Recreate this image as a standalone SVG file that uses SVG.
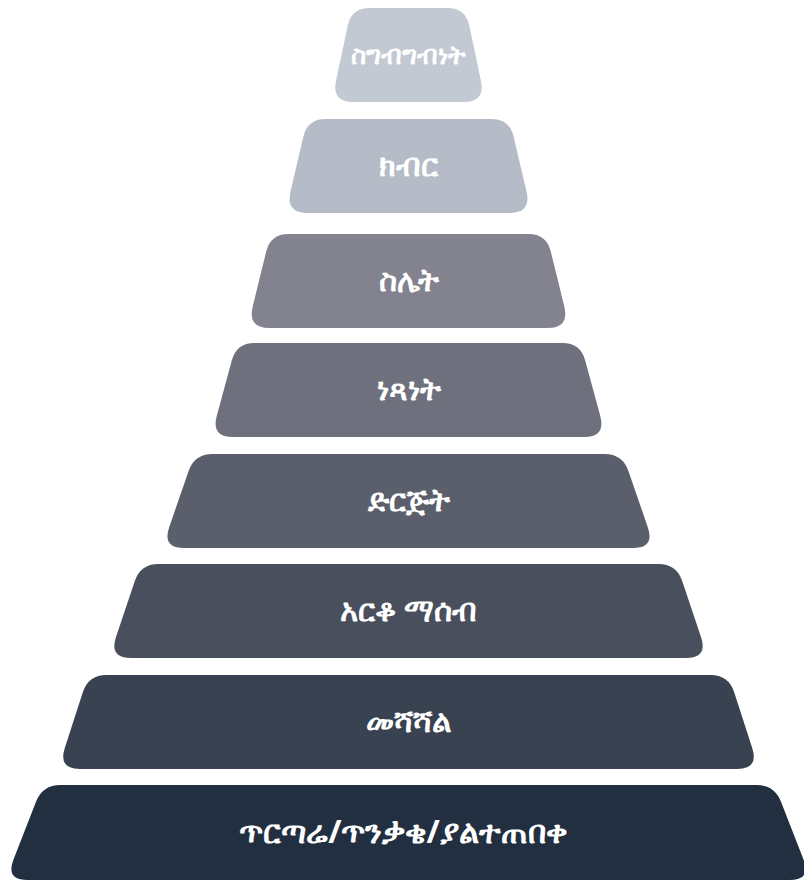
<svg xmlns="http://www.w3.org/2000/svg" width="804" height="883" viewBox="0 0 804 883">
<style>
.lbl{font-family:"Noto Sans","DejaVu Sans",sans-serif;font-weight:bold;fill:#ffffff;text-anchor:middle;font-size:31px}
.sm{font-size:26px}
</style>
<rect width="804" height="883" fill="#ffffff"/>
<g id="level1">
<path d="M369.5,8 H447.5 Q465.5,8 469.25,25.6 L480.9,80.5 Q485.5,102 463.5,102 H353.5 Q331.5,102 336.1,80.5 L347.75,25.6 Q351.5,8 369.5,8Z" fill="#c2c9d3"/>
<text class="lbl sm" x="408.5" y="64">ስግብግብነት</text>
</g>
<g id="level2">
<path d="M325.5,119 H491.5 Q509.5,119 513.6,136.5 L526.5,191.6 Q531.5,213 509.5,213 H307.5 Q285.5,213 290.5,191.6 L303.4,136.5 Q307.5,119 325.5,119Z" fill="#b5bcc7"/>
<text class="lbl" x="408.5" y="176">ክብር</text>
</g>
<g id="level3">
<path d="M288.5,234 H528.5 Q546.5,234 550.8,251.5 L564.3,306.6 Q569.5,328 547.5,328 H269.5 Q247.5,328 252.7,306.6 L266.2,251.5 Q270.5,234 288.5,234Z" fill="#83838f"/>
<text class="lbl" x="408.5" y="291">ስሌት</text>
</g>
<g id="level4">
<path d="M254.5,343 H562.5 Q580.5,343 585.2,360.4 L600.2,415.8 Q606,437 584,437 H233 Q211,437 216.8,415.8 L231.8,360.4 Q236.5,343 254.5,343Z" fill="#6e717d"/>
<text class="lbl" x="408.5" y="400">ነጻነት</text>
</g>
<g id="level5">
<path d="M212.5,454 H604.5 Q622.5,454 628.4,471 L647.8,527.2 Q655,548 633,548 H184 Q162,548 169.2,527.2 L188.6,471 Q194.5,454 212.5,454Z" fill="#5b5f6b"/>
<text class="lbl" x="408.5" y="511">ድርጅት</text>
</g>
<g id="level6">
<path d="M158.5,564 H658.5 Q676.5,564 682.2,581.1 L701,637.1 Q708,658 686,658 H131 Q109,658 116,637.1 L134.8,581.1 Q140.5,564 158.5,564Z" fill="#4a4f5d"/>
<text class="lbl" x="408.5" y="621">አርቆ ማሰብ</text>
</g>
<g id="level7">
<path d="M106.5,675 H710.5 Q728.5,675 734.1,692.1 L752.2,748.1 Q759,769 737,769 H80 Q58,769 64.8,748.1 L82.9,692.1 Q88.5,675 106.5,675Z" fill="#394251"/>
<text class="lbl" x="408.5" y="732">መሻሻል</text>
</g>
<g id="level8">
<path d="M60.5,785 H756.5 Q774.5,785 781,801.8 L803.5,859.5 Q811.5,880 789.5,880 H27.5 Q5.5,880 13.5,859.5 L36,801.8 Q42.5,785 60.5,785Z" fill="#212f40"/>
<text class="lbl" x="403" y="843" style="font-size:32px">ጥርጣሬ/ጥንቃቄ/ያልተጠበቀ</text>
</g>
<g id="connectors"/>
</svg>
